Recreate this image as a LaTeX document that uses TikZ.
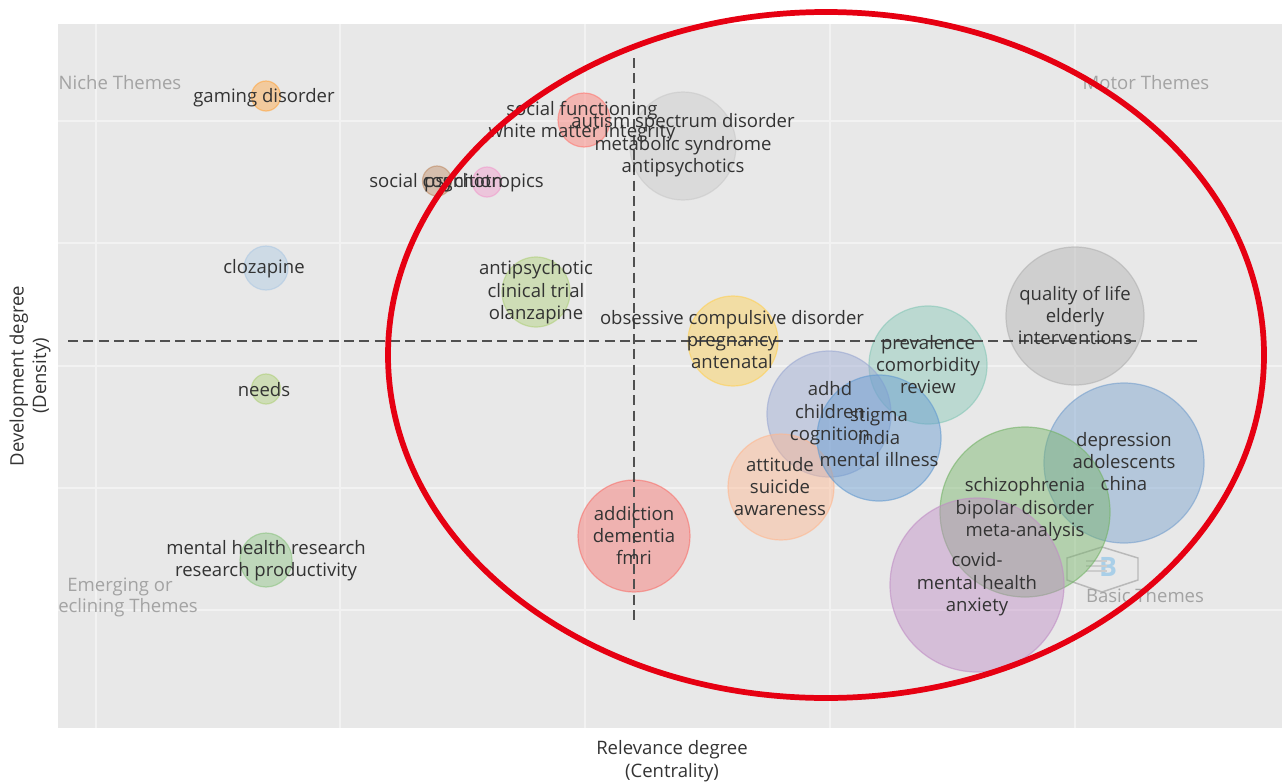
\documentclass[tikz,border=0pt]{standalone}
\usepackage{fontspec}
\setmainfont{Open Sans}
\usetikzlibrary{shapes.geometric}
\definecolor{plotbg}{HTML}{E8E8E8}
\definecolor{inktext}{HTML}{333333}
\definecolor{quad}{HTML}{A3A3A3}
\definecolor{dashc}{HTML}{505050}
\definecolor{redring}{HTML}{E60012}
\definecolor{logoblue}{HTML}{A9CFE8}
\definecolor{cA}{HTML}{FFA743}
\definecolor{cB}{HTML}{FF7770}
\definecolor{cC}{HTML}{C9C9C9}
\definecolor{cD}{HTML}{C08D67}
\definecolor{cE}{HTML}{F19CCD}
\definecolor{cF}{HTML}{AEC9E3}
\definecolor{cG}{HTML}{B0D07B}
\definecolor{cH}{HTML}{8DC482}
\definecolor{cI}{HTML}{F8726C}
\definecolor{cJ}{HTML}{FFD053}
\definecolor{cK}{HTML}{86C7B7}
\definecolor{cL}{HTML}{B1B1B1}
\definecolor{cM}{HTML}{9AA8D2}
\definecolor{cN}{HTML}{FFB78F}
\definecolor{cO}{HTML}{639AD0}
\definecolor{cP}{HTML}{759FCD}
\definecolor{cQ}{HTML}{74B367}
\definecolor{cR}{HTML}{C08DC5}
\tikzset{
  bub/.style={draw=#1,fill=#1,fill opacity=0.45,draw opacity=0.6,line width=0.9pt},
  lab/.style={text=inktext,font=\fontsize{13.9}{16.8}\selectfont,align=center,inner sep=0pt,yshift=-1.1pt},
  quadlab/.style={text=quad,font=\fontsize{13.9}{16.8}\selectfont,align=center,inner sep=0pt,yshift=-0.6pt},
  axlab/.style={text=inktext,font=\fontsize{13.9}{16.8}\selectfont,align=center,inner sep=0pt},
  gridl/.style={draw=white!45!plotbg,line width=0.8pt},
  quaddash/.style={draw=dashc,line width=2pt,dash pattern=on 7.5pt off 4pt},
}
\newcommand{\bubble}[6]{\node[bub=#6,ellipse,minimum width=#3*1.5pt,minimum height=#4*1.5pt,inner sep=0pt] (#5) at (#1,#2) {};}
\begin{document}
\begin{tikzpicture}[x=0.75pt,y=-0.75pt]
\useasboundingbox (0,0) rectangle (1282,782);
\fill[plotbg] (58,24) rectangle (1282,728);
\foreach \gx in {96,340,585,830,1075} \draw[gridl] (\gx,24) -- (\gx,728);
\foreach \gy in {121,243,366,488,610} \draw[gridl] (58,\gy) -- (1282,\gy);
% logo
\draw[draw=gray!55,line width=1.1pt] (1102,547) -- (1138,558) -- (1138,580) -- (1102,592) -- (1067,580) -- (1067,558) -- cycle;
\node[inner sep=0pt,text=logoblue,font=\fontsize{20}{20}\selectfont\bfseries] (logob) at (1108,567) {B};
\foreach \sy in {561,566,571} \draw[gray!40,line width=1pt] (1086,\sy) -- (1107,\sy);
% bubbles
\bubble{266}{96}{14.5}{15}{b1}{cA}
\bubble{584}{120}{26}{27}{b2}{cB}
\bubble{683}{146}{53}{54}{b3}{cC}
\bubble{437}{181}{14.5}{15}{b4}{cD}
\bubble{487}{182}{14.5}{15}{b5}{cE}
\bubble{266}{268}{22}{22}{b6}{cF}
\bubble{536}{292}{34}{35}{b7}{cG}
\bubble{266}{389}{14.5}{15}{b8}{cG}
\bubble{266}{560}{26}{27}{b9}{cH}
\bubble{634}{536}{56}{56}{b10}{cI}
\bubble{733}{341}{45}{45}{b11}{cJ}
\bubble{928}{365}{59}{59}{b12}{cK}
\bubble{1075}{316}{69}{69}{b13}{cL}
\bubble{829}{414}{62}{63}{b14}{cM}
\bubble{781}{487}{53}{53}{b15}{cN}
\bubble{879}{438}{62}{63}{b16}{cO}
\bubble{1124}{463}{80}{80}{b17}{cP}
\bubble{1025}{512}{85}{85}{b18}{cQ}
\bubble{977}{585}{87}{87}{b19}{cR}
% dashes
\coordinate (hl) at (68,341); \coordinate (hr) at (1202,341);
\coordinate (vt) at (634,58); \coordinate (vb) at (634,625);
\draw[quaddash] (hl) -- (hr);
\draw[quaddash] (vt) -- (vb);
% labels
\node[lab] (l1) at (264,96) {gaming disorder};
\node[lab] (l2) at (582,120) {social functioning\\white matter integrity};
\node[lab] (l3) at (683,144) {autism spectrum disorder\\metabolic syndrome\\antipsychotics};
\node[lab] (l4) at (436,181) {social cognition};
\node[lab] (l5) at (484,181) {psychotropics};
\node[lab] (l6) at (264,267) {clozapine};
\node[lab] (l7) at (536,291) {antipsychotic\\clinical trial\\olanzapine};
\node[lab] (l8) at (264,388) {needs};
\node[lab] (l9) at (266,559) {mental health research\\research productivity};
\node[lab] (l10) at (634,534) {addiction\\dementia\\fmri};
\node[lab] (l11) at (732,338) {obsessive compulsive disorder\\pregnancy\\antenatal};
\node[lab] (l12) at (928,363) {prevalence\\comorbidity\\review};
\node[lab] (l13) at (1075,314) {quality of life\\elderly\\interventions};
\node[lab] (l14) at (830,412) {adhd\\children\\cognition};
\node[lab] (l15) at (780,485) {attitude\\suicide\\awareness};
\node[lab] (l16) at (879,436) {stigma\\india\\mental illness};
\node[lab] (l17) at (1124,460) {depression\\adolescents\\china};
\node[lab] (l18) at (1025,508) {schizophrenia\\bipolar disorder\\meta-analysis};
\node[lab] (l19) at (977,583) {covid-\\mental health\\anxiety};
\node[quadlab] (q1) at (120,82) {Niche Themes};
\node[quadlab] (q2) at (1146,82) {Motor Themes};
\node[quadlab] (q3) at (120,586) {Emerging or};
\node[quadlab,anchor=west] (q3b) at (58,607) {eclining Themes};
\node[quadlab] (q4) at (1145,595) {Basic Themes};
\node[axlab] (ax) at (672,761) {Relevance degree\\(Centrality)};
\node[axlab,rotate=90] (ay) at (30,376) {Development degree\\(Density)};
% ring
\node[ellipse,draw=redring,line width=4.3pt,minimum width=657pt,minimum height=514.5pt,inner sep=0pt] (ring) at (826,355) {};
\end{tikzpicture}
\end{document}
